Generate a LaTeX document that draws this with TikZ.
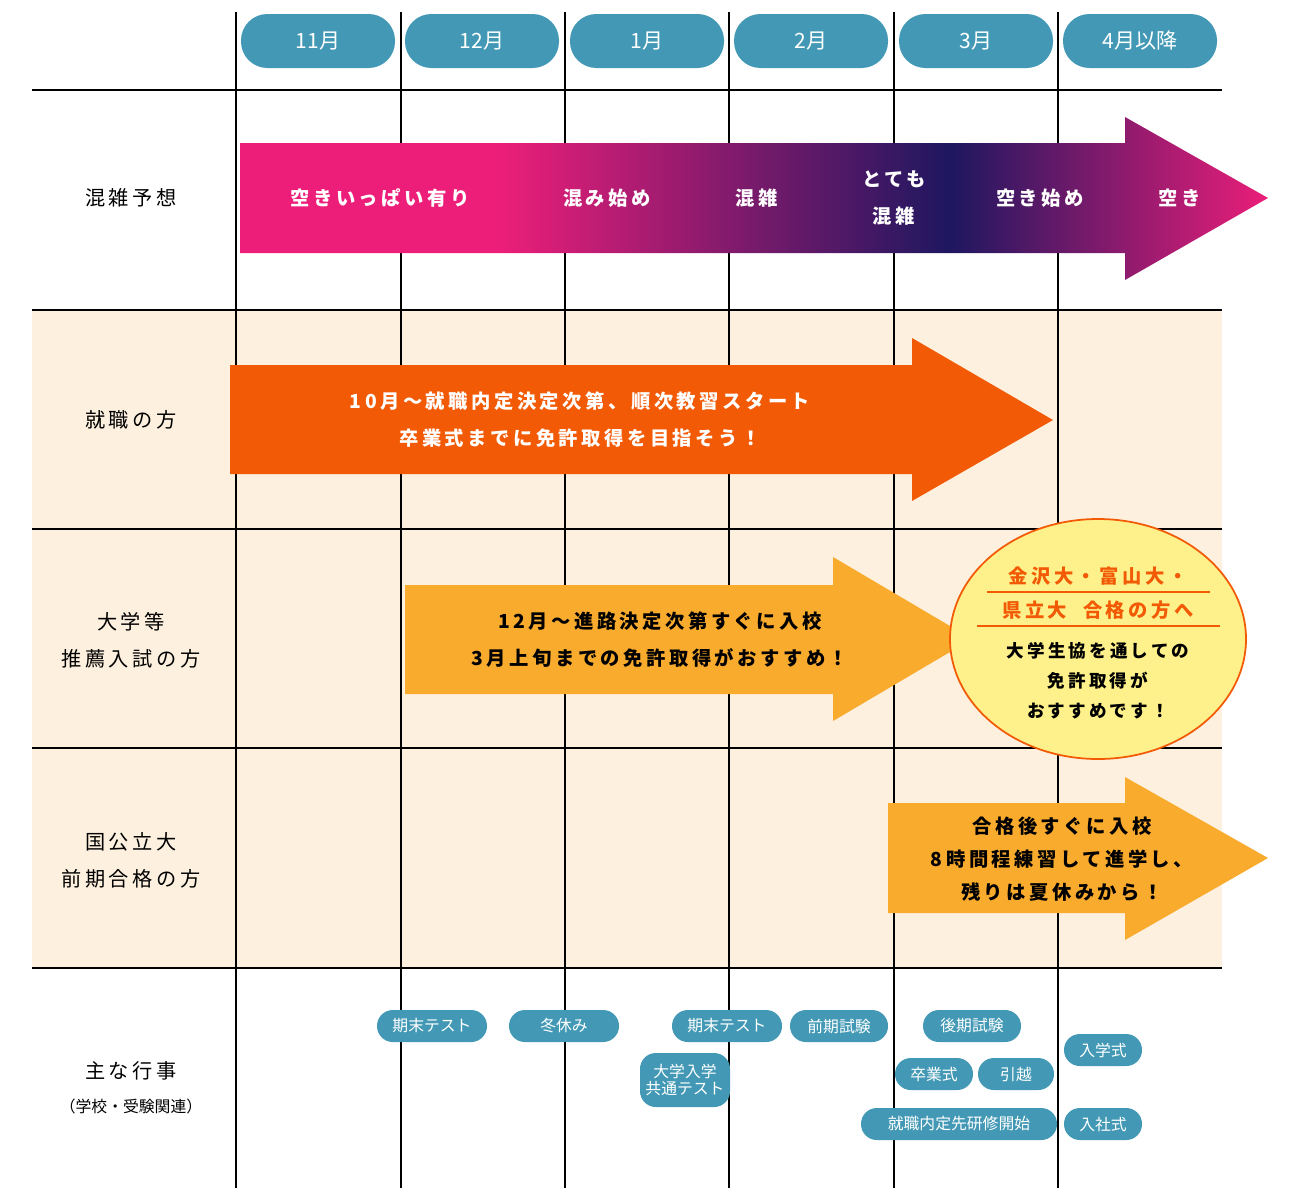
\documentclass[tikz,border=0pt]{standalone}
\usepackage{fontspec}
\usetikzlibrary{shapes.geometric}
\setmainfont{Noto Sans CJK JP}
\newfontfamily\jpw[LetterSpace=18]{Noto Sans CJK JP}
\newdimen\pxu \pxu=0.02cm
\definecolor{pillc}{HTML}{4399B5}
\definecolor{bandc}{HTML}{FDF0DF}
\definecolor{pinkc}{HTML}{EC1E79}
\definecolor{navyc}{HTML}{1E1760}
\definecolor{orangec}{HTML}{F25A05}
\definecolor{amberc}{HTML}{F9AB2E}
\definecolor{yelc}{HTML}{FEF08A}
\begin{document}
\begin{tikzpicture}[x=0.02cm,y=-0.02cm,
  month/.style={fill=pillc,text=white,rounded corners=15pt,minimum width=154\pxu,minimum height=54\pxu,font=\fontsize{12}{14}\selectfont},
  event/.style={fill=pillc,text=white,rounded corners=9pt,minimum height=32\pxu,inner sep=1pt,font=\fontsize{9}{11}\selectfont,align=center},
  rowlab/.style={align=center,font=\jpw\fontsize{11.5}{21}\selectfont},
  arrtxt/.style={align=center,font=\jpw\bfseries\fontsize{11}{21}\selectfont}]
  \useasboundingbox (0,0) rectangle (1300,1200);
  % bands
  \fill[bandc] (32,310) rectangle (1222,968);
  \foreach \y in {90,310,529,748,968}
    \draw[line width=0.6pt] (32,\y) -- (1222,\y);
  \foreach \x in {236,401,565,729,894,1058}
    \draw[line width=0.6pt] (\x,12) -- (\x,1188);
  % months
  \foreach \x/\m [count=\i] in {318/11月,482/12月,647/1月,811/2月,976/3月,1140/4月以降}
    \node[month] (m\i) at (\x,41) {\m};
  % row labels
  \node[rowlab] (r1) at (131,198) {混雑予想};
  \node[rowlab] (r2) at (131,420) {就職の方};
  \node[rowlab] (r3) at (131,640) {大学等\\推薦入試の方};
  \node[rowlab] (r4) at (131,860) {国公立大\\前期合格の方};
  \node[rowlab] (r5) at (131,1071) {主な行事};
  \node[font=\fontsize{9}{11}\selectfont] (r5b) at (131,1106) {（学校・受験関連）};
  % congestion arrow
  \begin{scope}
    \clip (240,143) -- (1125,143) -- (1125,117) -- (1268,198) -- (1125,280) -- (1125,253) -- (240,253) -- cycle;
    \fill[pinkc] (238,100) rectangle (500,300);
    \shade[left color=pinkc,right color=navyc] (500,100) rectangle (950,300);
    \shade[left color=navyc,right color=pinkc] (950,100) rectangle (1270,300);
  \end{scope}
  \begin{scope}[every node/.style={arrtxt,text=white}]
    \node (c1) at (380,198) {空きいっぱい有り};
    \node (c2) at (607,198) {混み始め};
    \node (c3) at (757,198) {混雑};
    \node (c4) at (894,198) {とても\\混雑};
    \node (c5) at (1040,198) {空き始め};
    \node (c6) at (1180,198) {空き};
  \end{scope}
  % job arrow
  \fill[orangec] (230,365) -- (912,365) -- (912,338) -- (1053,420) -- (912,501) -- (912,474) -- (230,474) -- cycle;
  \node[arrtxt,text=white] (t2) at (580,420) {10月～就職内定決定次第、順次教習スタート\\卒業式までに免許取得を目指そう！};
  % recommendation arrow
  \fill[amberc] (405,585) -- (833,585) -- (833,557) -- (972,639) -- (833,721) -- (833,694) -- (405,694) -- cycle;
  \node[arrtxt] (t3) at (660,640) {12月～進路決定次第すぐに入校\\3月上旬までの免許取得がおすすめ！};
  \node[ellipse,draw=orangec,fill=yelc,line width=1pt,minimum width=296\pxu,minimum height=240\pxu] (ov) at (1098,639) {};
  \node[arrtxt,text=orangec] (o1) at (1098,576) {金沢大・富山大・};
  \node[arrtxt,text=orangec] (o2) at (1098,610) {県立大\ \ 合格の方へ};
  \draw[orangec,line width=0.6pt] (987,592) -- (1210,592) (977,626) -- (1220,626);
  \node[arrtxt,font=\jpw\bfseries\fontsize{10}{17}\selectfont] (o3) at (1098,681) {大学生協を通しての\\免許取得が\\おすすめです！};
  % national arrow
  \fill[amberc] (888,803) -- (1125,803) -- (1125,777) -- (1268,858) -- (1125,940) -- (1125,913) -- (888,913) -- cycle;
  \node[arrtxt,font=\jpw\bfseries\fontsize{11}{19}\selectfont] (t4) at (1062,859) {合格後すぐに入校\\8時間程練習して進学し、\\残りは夏休みから！};
  % events
  \node[event,minimum width=110\pxu] (e1) at (432,1026) {期末テスト};
  \node[event,minimum width=110\pxu] (e2) at (564,1026) {冬休み};
  \node[event,minimum width=110\pxu] (e3) at (727,1026) {期末テスト};
  \node[event,minimum width=98\pxu] (e4) at (839,1026) {前期試験};
  \node[event,minimum width=98\pxu] (e5) at (972,1026) {後期試験};
  \node[event,minimum width=90\pxu,minimum height=54\pxu,font=\fontsize{9}{10}\selectfont] (e6) at (685,1080) {大学入学\\共通テスト};
  \node[event,minimum width=78\pxu] (e7) at (934,1074) {卒業式};
  \node[event,minimum width=76\pxu] (e8) at (1016,1074) {引越};
  \node[event,minimum width=78\pxu] (e9) at (1103,1050) {入学式};
  \node[event,minimum width=196\pxu] (e10) at (959,1124) {就職内定先研修開始};
  \node[event,minimum width=78\pxu] (e11) at (1103,1124) {入社式};
\end{tikzpicture}
\end{document}
